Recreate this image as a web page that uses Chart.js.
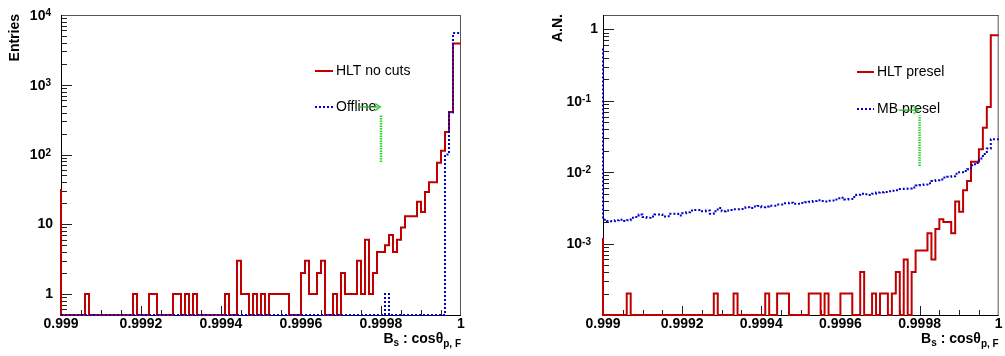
<!DOCTYPE html>
<html>
<head>
<meta charset="utf-8">
<script src="https://cdn.jsdelivr.net/npm/chart.js@4.4.0/dist/chart.umd.min.js"></script>
<style>
  body { margin: 0; background: #fff; width: 1005px; height: 356px; overflow: hidden; position: relative; }
  canvas { position: absolute; top: 0; }
</style>
</head>
<body>
<canvas id="left" width="502" height="356" style="left:0"></canvas>
<canvas id="right" width="503" height="356" style="left:502px"></canvas>
<script>
// binning of both histograms: 100 bins between 0.999 and 1
const xMin = 0.999, xMax = 1.0, binWidth = 0.00001;
const xTickValues = [0.999, 0.9992, 0.9994, 0.9996, 0.9998, 1];
const xTickLabels = ['0.999', '0.9992', '0.9994', '0.9996', '0.9998', '1'];

// left pad: entries
const hltNoCuts = [
  32, 0, 0, 0, 0, 0, 0, 1, 0, 0,
  0, 0, 0, 0, 0, 0, 0, 0, 0, 1,
  0, 0, 0, 1, 1, 0, 0, 0, 0, 1,
  1, 0, 1, 0, 1, 0, 0, 0, 0, 0,
  0, 0, 1, 0, 0, 3, 1, 1, 0, 1,
  0, 1, 0, 1, 1, 1, 1, 1, 0, 0,
  0, 2, 3, 1, 1, 2, 3, 0, 0, 1,
  0, 2, 1, 1, 1, 3, 1, 6, 1, 2,
  4, 4, 5, 7, 4, 6, 9, 13, 13, 13,
  21, 15, 29, 40, 40, 76, 113, 210, 408, 3900
];
const offline = [
  0, 0, 0, 0, 0, 0, 0, 0, 0, 0,
  0, 0, 0, 0, 0, 0, 0, 0, 0, 0,
  0, 0, 0, 0, 0, 0, 0, 0, 0, 0,
  0, 0, 0, 0, 0, 0, 0, 0, 0, 0,
  0, 0, 0, 0, 0, 0, 0, 0, 0, 0,
  0, 0, 0, 0, 0, 0, 0, 0, 0, 0,
  0, 0, 0, 0, 0, 0, 0, 0, 0, 0,
  0, 0, 0, 0, 0, 0, 0, 0, 0, 0,
  0, 0, 1, 0, 0, 0, 0, 0, 0, 0,
  0, 0, 0, 0, 0, 0, 0, 100, 400, 5500
];
const leftYTicks = [1, 10, 100, 1000, 10000];
const leftYLabels = [['1', ''], ['10', ''], ['10', '2'], ['10', '3'], ['10', '4']];
const offlineCutX = 0.9998;
const offlineCutY = [78, 375];
const offlineArrowX = [0.999743, 0.999793];
const offlineArrowY = 480;

// right pad: area normalised
const hltPresel = [
  0.0012, 0, 0, 0, 0, 0, 0, 0.0002, 0, 0,
  0, 0, 0, 0, 0, 0, 0, 0, 0, 0,
  0, 0, 0, 0, 0, 0, 0, 0, 0, 0.0002,
  0, 0, 0, 0, 0.0002, 0, 0, 0, 0, 0,
  0, 0, 0.0002, 0, 0, 0.0002, 0.0002, 0.0002, 0, 0,
  0, 0, 0, 0.0002, 0.0002, 0.0002, 0, 0.0002, 0, 0,
  0, 0.0002, 0.0002, 0.0002, 0, 0, 0.0004, 0, 0, 0.0002,
  0, 0.0002, 0.0002, 0, 0.0002, 0.0004, 0, 0.0006, 0, 0.0004,
  0.0008, 0.0008, 0.0008, 0.0014, 0.0006, 0.0016, 0.0022, 0.0020, 0.0020, 0.0014,
  0.0039, 0.0028, 0.0056, 0.0075, 0.014, 0.014, 0.021, 0.042, 0.082, 0.83
];
const mbPresel = [
  0.54, 0.00216, 0.00207, 0.00205, 0.00212, 0.00216, 0.00207, 0.00212, 0.00230, 0.00235,
  0.00256, 0.00235, 0.00230, 0.00240, 0.00256, 0.00256, 0.00240, 0.00242, 0.00261, 0.00261,
  0.00248, 0.00267, 0.00275, 0.00290, 0.00296, 0.00296, 0.00284, 0.00290, 0.00261, 0.00284,
  0.00316, 0.00284, 0.00290, 0.00296, 0.00303, 0.00303, 0.00306, 0.00323, 0.00316, 0.00330,
  0.00337, 0.00323, 0.00330, 0.00340, 0.00340, 0.00352, 0.00352, 0.00366, 0.00374, 0.00360,
  0.00362, 0.00370, 0.00378, 0.00386, 0.00395, 0.00405, 0.00395, 0.00390, 0.00398, 0.00400,
  0.00430, 0.00440, 0.00415, 0.00420, 0.00450, 0.00485, 0.00500, 0.00490, 0.00480, 0.00500,
  0.00520, 0.00525, 0.00530, 0.00540, 0.00550, 0.00560, 0.00580, 0.00585, 0.00590, 0.00610,
  0.00650, 0.00660, 0.00670, 0.00700, 0.00750, 0.00770, 0.00790, 0.00840, 0.00860, 0.00880,
  0.00950, 0.0100, 0.0104, 0.0110, 0.0125, 0.0135, 0.0155, 0.0180, 0.0215, 0.0290
];
const rightYTicks = [0.001, 0.01, 0.1, 1];
const rightYLabels = [['10', '-3'], ['10', '-2'], ['10', '-1'], ['1', '']];
const preselCutX = 0.9998;
const preselCutY = [0.0122, 0.0626];
const preselArrowX = [0.999747, 0.999792];
const preselArrowY = 0.0738;

const FONT = '"Liberation Sans", Arial, Helvetica, sans-serif';
const RED = '#c00000', BLUE = '#0000cc', GREEN = '#2fd82f';

function histData(values, floor) {
  const pts = values.map((v, i) => ({ x: xMin + i * binWidth, y: v > 0 ? v : floor }));
  pts.push({ x: xMax, y: pts[pts.length - 1].y });
  return pts;
}

function chevron(color) {
  const c = document.createElement('canvas');
  c.width = 12; c.height = 12;
  const g = c.getContext('2d');
  g.strokeStyle = color; g.lineWidth = 1.3;
  g.beginPath(); g.moveTo(3, 2.5); g.lineTo(8, 6); g.lineTo(3, 9.5); g.stroke();
  return c;
}

// ROOT-like frame, inward ticks, labels, titles and legend
const rootAxes = {
  id: 'rootAxes',
  beforeDatasetsDraw(chart, args, o) {
    const { ctx, chartArea: a, scales: { x, y } } = chart;
    ctx.save();
    ctx.lineWidth = 1;
    ctx.strokeStyle = '#222';
    ctx.beginPath();
    for (let k = 1; k < 20; k++) {
      const px = Math.round(x.getPixelForValue(xMin + k * 0.00005)) + 0.5;
      ctx.moveTo(px, a.bottom);
      ctx.lineTo(px, a.bottom - (k % 4 === 0 ? 9 : 5));
    }
    const e0 = Math.floor(Math.log10(y.min)), e1 = Math.ceil(Math.log10(y.max));
    for (let e = e0; e <= e1; e++) {
      for (let m = 1; m < 10; m++) {
        const v = m * Math.pow(10, e);
        if (v <= y.min * 1.0001 || v > y.max * 1.0001) continue;
        const py = Math.round(y.getPixelForValue(v)) + 0.5;
        ctx.moveTo(a.left, py);
        ctx.lineTo(a.left + (m === 1 ? 11 : 6), py);
      }
    }
    ctx.stroke();
    // frame
    ctx.strokeStyle = '#555';
    ctx.beginPath();
    ctx.moveTo(a.left, a.top + 0.5); ctx.lineTo(a.right, a.top + 0.5);
    ctx.moveTo(a.right - 0.5, a.top); ctx.lineTo(a.right - 0.5, a.bottom);
    ctx.stroke();
    ctx.strokeStyle = '#000';
    ctx.beginPath();
    ctx.moveTo(a.left + 0.5, a.top); ctx.lineTo(a.left + 0.5, a.bottom + 0.5);
    ctx.lineTo(a.right, a.bottom + 0.5);
    ctx.stroke();
    // legend (drawn under the cut arrow, as in the original)
    o.legend.forEach(([di, ly]) => {
      const ds = chart.data.datasets[di];
      ctx.strokeStyle = ds.borderColor;
      ctx.lineWidth = ds.borderWidth;
      ctx.setLineDash(ds.borderDash || []);
      ctx.beginPath();
      ctx.moveTo(o.legendX[0], ly); ctx.lineTo(o.legendX[1], ly);
      ctx.stroke();
      ctx.setLineDash([]);
      ctx.font = '14px ' + FONT;
      ctx.textAlign = 'left';
      ctx.textBaseline = 'middle';
      ctx.fillStyle = '#000';
      ctx.fillText(ds.label, o.legendX[1] + 3, ly);
    });
    ctx.restore();
  },
  afterDraw(chart, args, o) {
    const { ctx, chartArea: a, scales: { x, y } } = chart;
    ctx.save();
    ctx.fillStyle = '#000';
    // x tick labels
    ctx.font = 'bold 14px ' + FONT;
    ctx.textAlign = 'center';
    ctx.textBaseline = 'middle';
    xTickValues.forEach((v, i) => ctx.fillText(xTickLabels[i], x.getPixelForValue(v), a.bottom + 9));
    // y tick labels
    o.yTicks.forEach((v, i) => {
      const [base, exp] = o.yLabels[i];
      const py = y.getPixelForValue(v);
      if (!exp) {
        ctx.font = 'bold 14px ' + FONT;
        ctx.textAlign = 'right';
        ctx.textBaseline = 'middle';
        ctx.fillText(base, a.left - o.plainGap, py);
      } else {
        const right = a.left - o.expGap, yc = py + 1;
        ctx.font = 'bold 10px ' + FONT;
        ctx.textAlign = 'right';
        ctx.textBaseline = 'alphabetic';
        const ew = ctx.measureText(exp).width;
        ctx.fillText(exp, right, yc);
        ctx.font = 'bold 14px ' + FONT;
        ctx.textBaseline = 'middle';
        ctx.fillText(base, right - ew, yc);
      }
    });
    // y title, aligned to top of axis
    ctx.save();
    ctx.translate(o.yTitleX, a.top - 1);
    ctx.rotate(-Math.PI / 2);
    ctx.font = 'bold 14px ' + FONT;
    ctx.textAlign = 'right';
    ctx.textBaseline = 'middle';
    ctx.fillText(o.yTitle, 0, 0);
    ctx.restore();
    // x title: B_s : cos theta_{p, F}
    const segs = [['B', 14, 0], ['s', 10, 3], [' : cos', 14, 0], ['\u03b8', 14, 0], ['p, F', 10, 4]];
    let total = 0;
    segs.forEach(s => { ctx.font = 'bold ' + s[1] + 'px ' + FONT; total += ctx.measureText(s[0]).width; });
    let tx = a.right - total;
    ctx.textAlign = 'left';
    ctx.textBaseline = 'alphabetic';
    segs.forEach(s => {
      ctx.font = 'bold ' + s[1] + 'px ' + FONT;
      ctx.fillText(s[0], tx, 343 + s[2]);
      tx += ctx.measureText(s[0]).width;
    });
    ctx.restore();
  }
};

function makeChart(id, cfg) {
  const arrowHead = chevron('#22b822');
  new Chart(document.getElementById(id), {
    type: 'line',
    data: {
      datasets: [
        {
          label: 'arrow',
          data: [{ x: cfg.arrowX[0], y: cfg.arrowY }, { x: cfg.arrowX[1], y: cfg.arrowY }],
          borderColor: '#22b822', borderWidth: 1.3,
          pointRadius: [0, 5], pointStyle: arrowHead
        },
        {
          label: 'cut',
          data: [{ x: cfg.cutX, y: cfg.cutY[0] }, { x: cfg.cutX, y: cfg.cutY[1] }],
          borderColor: GREEN, borderWidth: 2.5, borderDash: [1.5, 1]
        },
        {
          label: cfg.blueLabel,
          data: histData(cfg.blue, cfg.yMin),
          borderColor: BLUE, borderWidth: 2, borderDash: [2, 2], stepped: 'after', clip: 4
        },
        {
          label: cfg.redLabel,
          data: histData(cfg.red, cfg.yMin),
          borderColor: RED, borderWidth: 2, stepped: 'after', clip: 4
        }
      ]
    },
    options: {
      responsive: false,
      animation: false,
      devicePixelRatio: 1,
      events: [],
      layout: { padding: cfg.padding },
      elements: { point: { radius: 0 }, line: { tension: 0, fill: false } },
      scales: {
        x: { type: 'linear', min: xMin, max: xMax, display: false },
        y: { type: 'logarithmic', min: cfg.yMin, max: cfg.yMax, display: false }
      },
      plugins: {
        legend: { display: false },
        tooltip: { enabled: false },
        rootAxes: {
          yTicks: cfg.yTicks, yLabels: cfg.yLabels,
          plainGap: cfg.plainGap, expGap: cfg.expGap,
          yTitle: cfg.yTitle, yTitleX: cfg.yTitleX,
          legendX: cfg.legendX, legend: [[3, cfg.legendY[0]], [2, cfg.legendY[1]]]
        }
      }
    },
    plugins: [rootAxes]
  });
}

makeChart('left', {
  red: hltNoCuts, blue: offline, redLabel: 'HLT no cuts', blueLabel: 'Offline',
  yMin: 0.5, yMax: 10000, yTicks: leftYTicks, yLabels: leftYLabels,
  cutX: offlineCutX, cutY: offlineCutY, arrowX: offlineArrowX, arrowY: offlineArrowY,
  padding: { left: 61, right: 41, top: 15, bottom: 41 },
  plainGap: 8, expGap: 10, yTitle: 'Entries', yTitleX: 15,
  legendX: [315, 333], legendY: [71, 107]
});

makeChart('right', {
  red: hltPresel, blue: mbPresel, redLabel: 'HLT presel', blueLabel: 'MB presel',
  yMin: 0.0001, yMax: 1.59, yTicks: rightYTicks, yLabels: rightYLabels,
  cutX: preselCutX, cutY: preselCutY, arrowX: preselArrowX, arrowY: preselArrowY,
  padding: { left: 101, right: 3, top: 15, bottom: 41 },
  plainGap: 5, expGap: 12, yTitle: 'A.N.', yTitleX: 56,
  legendX: [355, 372], legendY: [72, 109]
});
</script>
</body>
</html>
